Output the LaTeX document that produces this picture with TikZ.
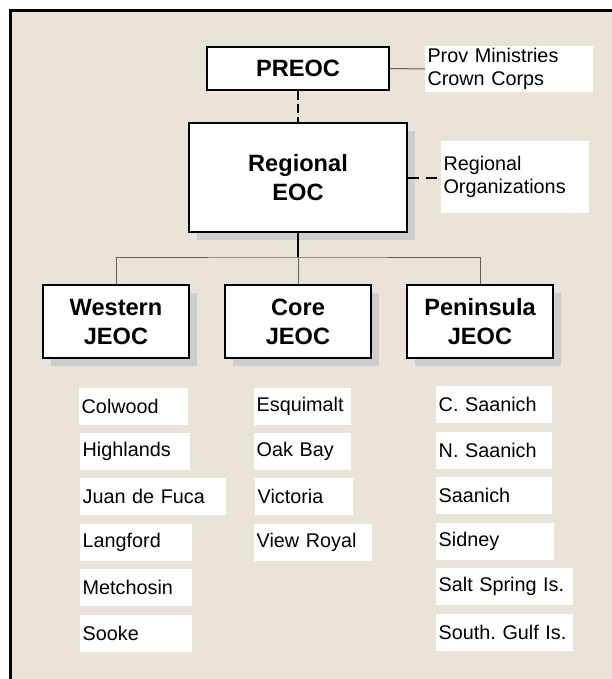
\documentclass[tikz,border=0pt]{standalone}
\usepackage{fontspec}
\setmainfont{Liberation Sans}
\usetikzlibrary{shadows}
\frenchspacing

\definecolor{paper}{RGB}{234,228,216}
\definecolor{shade}{RGB}{206,206,206}
\definecolor{wire}{RGB}{96,96,96}

\tikzset{
  unitbox/.style={draw=black, line width=1.2pt, fill=white, align=center,
    font=\fontsize{23.6}{29}\selectfont\bfseries, inner sep=0pt},
  shadowed/.style={drop shadow={shadow xshift=8pt, shadow yshift=-8pt,
    fill=shade, opacity=1}},
  notebox/.style={fill=white, align=left, inner xsep=2.5pt, inner ysep=0pt,
    font=\fontsize{19.8}{23}\selectfont},
  member/.style={notebox, minimum height=36.5pt, anchor=north west},
  solidlink/.style={draw=wire, line width=1pt},
  heavylink/.style={draw=black, line width=2pt},
  dashlink/.style={draw=black, line width=2pt, dash pattern=on 9pt off 4pt},
}

\begin{document}
\begin{tikzpicture}[x=1pt, y=-1pt]
  \useasboundingbox (0,0) rectangle (612,679);
  % page and frame
  \fill[white] (0,0) rectangle (612,679);
  \fill[paper] (10.8,10.8) rectangle (612,679);
  \draw[line width=2.7pt] (10.8,679) -- (10.8,10.8) -- (612,10.8);

  % command boxes
  \node[unitbox, minimum width=182pt, minimum height=43pt] (preoc) at (298,68.5) {PREOC};
  \node[unitbox, shadowed, minimum width=218pt, minimum height=109pt] (reg) at (298,177.5) {Regional\\EOC};
  \node[unitbox, shadowed, minimum width=146pt, minimum height=73pt] (west) at (116,321.5) {Western\\JEOC};
  \node[unitbox, shadowed, minimum width=146pt, minimum height=73pt] (core) at (298,321.5) {Core\\JEOC};
  \node[unitbox, shadowed, minimum width=146pt, minimum height=73pt] (pen) at (480,321.5) {Peninsula\\JEOC};

  % side notes
  \node[notebox, text width=163pt, minimum height=46pt] (prov) at (509,69) {Prov Ministries\\Crown Corps};
  \node[notebox, text width=143pt, minimum height=72pt] (org) at (515,177) {Regional\\Organizations};

  % links
  \draw[solidlink] (preoc.east) -- (prov.west);
  \draw[dashlink] (preoc.south) -- (reg.north);
  \draw[dashlink, dash pattern=on 11pt off 7pt, shorten >=4pt] (reg.east) -- (reg.east -| org.west);
  \coordinate (bus) at (298,257);
  \draw[heavylink] (reg.south) -- (bus);
  \draw[solidlink] (west.north) |- (bus) -| (pen.north);
  \draw[solidlink] (bus) -- (core.north);

  % Western members
  \node[member, text width=104pt] (colwood) at (79,388) {Colwood};
  \node[member, text width=105pt] (highlands) at (80,433) {Highlands};
  \node[member, text width=141pt] (juan) at (80,478) {Juan de Fuca};
  \node[member, text width=107pt] (langford) at (80,524) {Langford};
  \node[member, text width=107pt] (metchosin) at (80,569) {Metchosin};
  \node[member, text width=107pt] (sooke) at (80,615) {Sooke};

  % Core members
  \node[member, text width=92pt] (esquimalt) at (254,388) {Esquimalt};
  \node[member, text width=92pt] (oakbay) at (254,433) {Oak Bay};
  \node[member, text width=93pt] (victoria) at (255,478) {Victoria};
  \node[member, text width=113pt] (viewroyal) at (254,524) {View Royal};

  % Peninsula members
  \node[member, text width=111pt] (csaanich) at (436,386) {C. Saanich};
  \node[member, text width=111pt] (nsaanich) at (436,432) {N. Saanich};
  \node[member, text width=111pt] (saanich) at (436,477) {Saanich};
  \node[member, text width=113pt] (sidney) at (436,523) {Sidney};
  \node[member, text width=132pt] (saltspring) at (436,568) {Salt Spring Is.};
  \node[member, text width=132pt] (southgulf) at (436,614) {South. Gulf Is.};
\end{tikzpicture}
\end{document}
